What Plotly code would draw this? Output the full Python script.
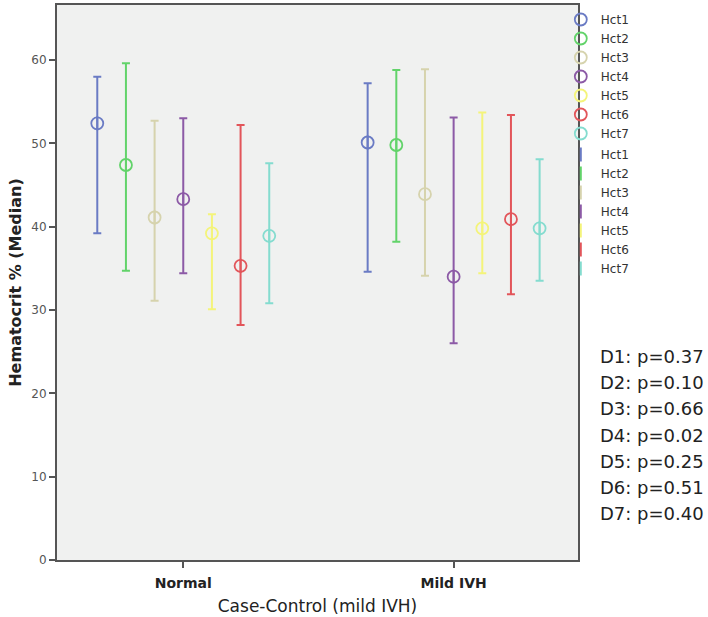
import plotly.graph_objects as go

categories = ["Normal", "Mild IVH"]
series = ["Hct1", "Hct2", "Hct3", "Hct4", "Hct5", "Hct6", "Hct7"]
colors = ["#6a7bc4", "#62d36a", "#d6d3ad", "#8c5aa6", "#f4f47a", "#e2555a", "#84dccf"]

# medians and error bar limits per series: [Normal, Mild IVH]
median = {
    "Hct1": [52.4, 50.1], "Hct2": [47.4, 49.8], "Hct3": [41.1, 43.9],
    "Hct4": [43.3, 34.0], "Hct5": [39.2, 39.8], "Hct6": [35.3, 40.9],
    "Hct7": [38.9, 39.8],
}
upper = {
    "Hct1": [58.0, 57.2], "Hct2": [59.6, 58.8], "Hct3": [52.7, 58.9],
    "Hct4": [53.0, 53.1], "Hct5": [41.5, 53.7], "Hct6": [52.2, 53.4],
    "Hct7": [47.6, 48.1],
}
lower = {
    "Hct1": [39.2, 34.6], "Hct2": [34.7, 38.2], "Hct3": [31.1, 34.1],
    "Hct4": [34.4, 26.0], "Hct5": [30.1, 34.4], "Hct6": [28.2, 31.9],
    "Hct7": [30.8, 33.5],
}
pvalues = ["D1: p=0.37", "D2: p=0.10", "D3: p=0.66", "D4: p=0.02",
           "D5: p=0.25", "D6: p=0.51", "D7: p=0.40"]
yticks = [0, 10, 20, 30, 40, 50, 60]

dodge = 0.106
cat_idx = list(range(len(categories)))

fig = go.Figure()

def xpos(si):
    return [ci + (si - 3) * dodge for ci in cat_idx]

for si, s in enumerate(series):
    fig.add_trace(go.Scatter(
        x=xpos(si), y=median[s], mode="markers", name=s,
        legendgroup="circles",
        marker=dict(symbol="circle-open", size=12, color=colors[si],
                    line=dict(width=1.8, color=colors[si])),
        hoverinfo="skip",
    ))

for si, s in enumerate(series):
    fig.add_trace(go.Scatter(
        x=xpos(si), y=median[s], mode="markers", name=s,
        legendgroup="bars",
        marker=dict(symbol="line-ns-open", size=10, color=colors[si],
                    line=dict(width=2, color=colors[si])),
        error_y=dict(type="data", symmetric=False,
                     array=[u - m for u, m in zip(upper[s], median[s])],
                     arrayminus=[m - l for m, l in zip(median[s], lower[s])],
                     color=colors[si], thickness=2, width=4),
        hoverinfo="skip",
    ))

for i, t in enumerate(pvalues):
    fig.add_annotation(
        x=1.246, xref="paper", xanchor="right",
        y=0.367 - i * 0.0473, yref="paper", yanchor="middle",
        text=t, showarrow=False,
        font=dict(family="DejaVu Sans", size=18, color="#222222"),
    )

fig.update_layout(
    width=708, height=617,
    margin=dict(l=57, r=130, t=5, b=57, autoexpand=False),
    paper_bgcolor="white", plot_bgcolor="#f0f1f0",
    font=dict(family="DejaVu Sans", color="#333333"),
    showlegend=True,
    legend=dict(x=0.967, xanchor="left", y=1.0, yanchor="top",
                font=dict(size=12, color="#333333"),
                tracegroupgap=2, bgcolor="rgba(0,0,0,0)",
                itemwidth=30),
    xaxis=dict(
        range=[-0.467, 1.46], tickvals=cat_idx,
        ticktext=["<b>%s</b>" % c for c in categories],
        tickfont=dict(size=14, color="#222222"),
        ticks="outside", ticklen=6, tickcolor="#555555", tickwidth=1.5,
        ticklabelstandoff=3,
        showline=True, linecolor="#555555", linewidth=2, mirror=True,
        showgrid=False, zeroline=False, automargin=False,
        title=dict(text="Case-Control (mild IVH)",
                   font=dict(size=17, color="#222222"), standoff=10),
    ),
    yaxis=dict(
        range=[0, 66.6], tickvals=yticks,
        tickfont=dict(size=12, color="#555555"),
        ticks="outside", ticklen=6, tickcolor="#555555", tickwidth=1.5,
        showline=True, linecolor="#555555", linewidth=2, mirror=True,
        showgrid=False, zeroline=False, automargin=False,
        title=dict(text="<b>Hematocrit % (Median)</b>",
                   font=dict(size=16, color="#222222"), standoff=6),
    ),
)

fig.write_html("out.html", config={"displayModeBar": False},
               post_script="document.body.style.margin='0';")
